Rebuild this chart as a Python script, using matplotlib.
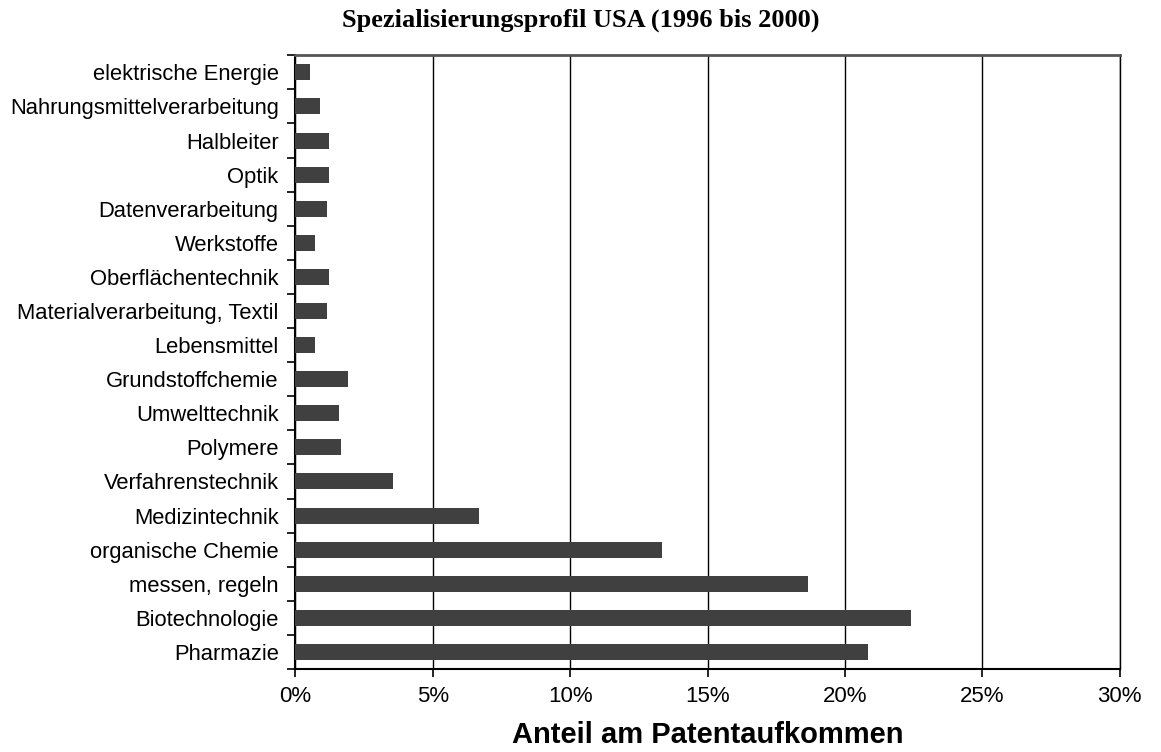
import matplotlib
matplotlib.use("Agg")
import matplotlib.pyplot as plt
import numpy as np
from matplotlib.ticker import FixedLocator, PercentFormatter

categories = ["Pharmazie", "Biotechnologie", "messen, regeln", "organische Chemie",
              "Medizintechnik", "Verfahrenstechnik", "Polymere", "Umwelttechnik",
              "Grundstoffchemie", "Lebensmittel", "Materialverarbeitung, Textil",
              "Oberflächentechnik", "Werkstoffe", "Datenverarbeitung", "Optik",
              "Halbleiter", "Nahrungsmittelverarbeitung", "elektrische Energie"]
values = [20.84, 22.4, 18.65, 13.35, 6.68, 3.56, 1.66, 1.59, 1.92, 0.72, 1.15,
          1.23, 0.72, 1.15, 1.23, 1.23, 0.90, 0.53]
xticks = [0, 5, 10, 15, 20, 25, 30]

fig = plt.figure(figsize=(11.61, 7.52), dpi=100)
ax = fig.add_axes([295.3/1161, 1-669/752, (1119.7-295.3)/1161, (669-55.3)/752])

y = np.arange(len(categories))
ax.barh(y, values, height=0.47, color="#404040", zorder=3)
ax.set_xlim(0, 30)
ax.set_ylim(-0.5, len(categories) - 0.5)

ax.set_xticks(xticks)
ax.xaxis.set_major_formatter(PercentFormatter(decimals=0))
ax.grid(axis="x", color="black", linewidth=1.0, zorder=0)
ax.set_axisbelow(True)

ax.set_yticks(y)
ax.set_yticklabels(categories, fontsize=15.8, family="Liberation Sans")
ax.yaxis.set_minor_locator(FixedLocator(np.arange(-0.5, len(categories), 1.0)))
ax.tick_params(axis="y", which="major", length=0, pad=12)
ax.tick_params(axis="y", which="minor", length=6, width=1.2, direction="out")
ax.tick_params(axis="x", which="major", length=6, width=1.2, direction="out",
               labelsize=16, pad=6)
for lab in ax.get_xticklabels():
    lab.set_family("Liberation Sans")

for s in ["left", "bottom"]:
    ax.spines[s].set_linewidth(1.5)
    ax.spines[s].set_color("black")
ax.spines["top"].set_color("#555555")
ax.spines["top"].set_linewidth(2)
ax.spines["right"].set_color("black")
ax.spines["right"].set_linewidth(1.0)

ax.set_xlabel("Anteil am Patentaufkommen", fontsize=21, fontweight="bold",
              family="Liberation Sans", labelpad=10)
fig.text(0.5, 1 - 20/752, "Spezialisierungsprofil USA (1996 bis 2000)",
         ha="center", va="center", fontsize=19, fontweight="bold",
         family="Liberation Serif")

fig.savefig("out.png", dpi=100)
